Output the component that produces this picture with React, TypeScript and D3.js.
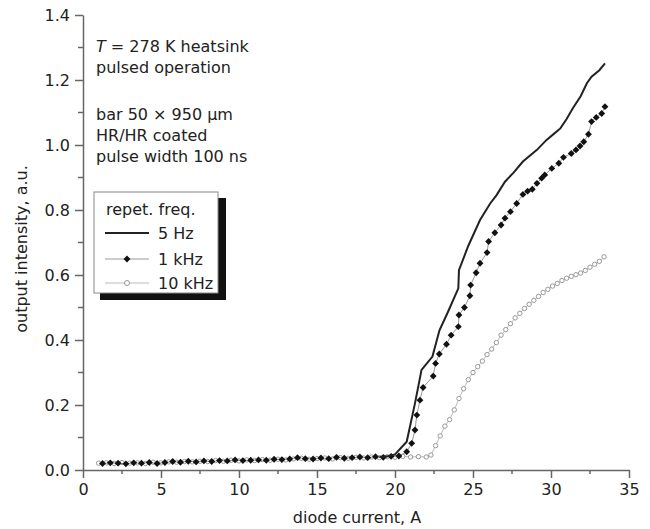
import * as d3 from "d3";
import React, { useRef, useEffect } from "react";

const W = 650;
const H = 529;
const font = "'DejaVu Sans', sans-serif";

// readings: [diode current A, output intensity a.u.]
const hz5: [number, number][] = [
  [19.0, 0.04], [19.5, 0.042], [20.0, 0.048], [20.75, 0.087], [21.28, 0.205],
  [21.7, 0.308], [22.4, 0.349], [22.85, 0.43], [23.4, 0.487], [24.06, 0.559],
  [24.1, 0.615], [24.7, 0.69], [25.45, 0.769], [26.1, 0.82], [26.5, 0.845],
  [27.05, 0.887], [27.6, 0.915], [28.2, 0.949], [29.1, 0.985], [29.7, 1.015],
  [30.2, 1.035], [30.6, 1.051], [31.0, 1.08], [31.4, 1.113], [31.9, 1.15],
  [32.3, 1.19], [32.6, 1.21], [33.1, 1.23], [33.46, 1.251],
];

const khz1: [number, number][] = [
  [1.25, 0.02], [1.75, 0.022], [2.25, 0.021], [2.75, 0.019], [3.25, 0.022],
  [3.75, 0.021], [4.25, 0.023], [4.75, 0.02], [5.25, 0.023], [5.75, 0.026],
  [6.25, 0.024], [6.75, 0.027], [7.25, 0.025], [7.75, 0.028], [8.25, 0.026],
  [8.75, 0.029], [9.25, 0.028], [9.75, 0.031], [10.25, 0.029], [10.75, 0.03],
  [11.25, 0.031], [11.75, 0.03], [12.25, 0.033], [12.75, 0.032], [13.25, 0.034],
  [13.75, 0.038], [14.25, 0.035], [14.75, 0.034], [15.25, 0.037], [15.75, 0.035],
  [16.25, 0.039], [16.75, 0.036], [17.25, 0.038], [17.75, 0.04], [18.25, 0.038],
  [18.75, 0.041], [19.25, 0.039], [19.75, 0.042], [20.25, 0.043], [20.75, 0.056],
  [21.07, 0.082], [21.28, 0.123], [21.4, 0.169], [21.6, 0.215], [21.8, 0.254],
  [22.45, 0.289], [22.6, 0.328], [22.84, 0.357], [23.3, 0.387], [23.6, 0.415],
  [24.06, 0.441], [24.1, 0.477], [24.45, 0.5], [24.8, 0.536], [24.85, 0.569],
  [25.2, 0.607], [25.45, 0.636], [25.9, 0.669], [26.0, 0.703], [26.4, 0.73],
  [26.8, 0.754], [27.05, 0.775], [27.4, 0.795], [27.8, 0.82], [28.2, 0.848],
  [28.5, 0.858], [28.8, 0.864], [29.1, 0.882], [29.4, 0.898], [29.6, 0.908],
  [30.05, 0.928], [30.5, 0.944], [30.8, 0.962], [31.3, 0.974], [31.6, 0.985],
  [31.86, 0.997], [32.1, 1.01], [32.4, 1.033], [32.6, 1.072], [32.9, 1.085],
  [33.25, 1.097], [33.46, 1.118],
];

const khz10: [number, number][] = [
  [1.0, 0.021], [1.5, 0.022], [2.0, 0.02], [2.5, 0.023], [3.0, 0.021],
  [3.5, 0.022], [4.0, 0.02], [4.5, 0.024], [5.0, 0.022], [5.5, 0.025],
  [6.0, 0.024], [6.5, 0.026], [7.0, 0.025], [7.5, 0.027], [8.0, 0.026],
  [8.5, 0.029], [9.0, 0.027], [9.5, 0.03], [10.0, 0.028], [10.5, 0.031],
  [11.0, 0.029], [11.5, 0.032], [12.0, 0.03], [12.5, 0.033], [13.0, 0.031],
  [13.5, 0.034], [14.0, 0.036], [14.5, 0.033], [15.0, 0.035], [15.5, 0.037],
  [16.0, 0.034], [16.5, 0.038], [17.0, 0.036], [17.5, 0.039], [18.0, 0.037],
  [18.5, 0.04], [19.0, 0.038], [19.5, 0.041], [20.0, 0.039], [20.5, 0.042],
  [21.0, 0.04], [21.5, 0.041], [22.0, 0.04], [22.3, 0.046], [22.6, 0.075],
  [22.9, 0.105], [23.2, 0.135], [23.5, 0.155], [23.8, 0.185], [24.1, 0.22],
  [24.4, 0.25], [24.7, 0.278], [25.0, 0.3], [25.3, 0.318], [25.6, 0.335],
  [25.9, 0.355], [26.2, 0.372], [26.5, 0.392], [26.8, 0.415], [27.1, 0.432],
  [27.4, 0.45], [27.7, 0.468], [28.0, 0.482], [28.3, 0.497], [28.6, 0.51],
  [28.9, 0.522], [29.2, 0.534], [29.5, 0.546], [29.8, 0.556], [30.1, 0.566],
  [30.4, 0.574], [30.7, 0.583], [31.0, 0.59], [31.3, 0.596], [31.6, 0.601],
  [31.9, 0.606], [32.2, 0.614], [32.5, 0.624], [32.8, 0.633], [33.1, 0.642],
  [33.4, 0.656],
];

const xTicks = [0, 5, 10, 15, 20, 25, 30, 35];
const xMinor = [2.5, 7.5, 12.5, 17.5, 22.5, 27.5, 32.5];
const yTicks = [0, 0.2, 0.4, 0.6, 0.8, 1.0, 1.2, 1.4];
const yMinor = [0.1, 0.3, 0.5, 0.7, 0.9, 1.1, 1.3];

const notesTop = ["pulsed operation"];
const notesBottom = ["bar 50 × 950 μm", "HR/HR coated", "pulse width 100 ns"];
const legendTitle = "repet. freq.";
const legendLabels = ["5 Hz", "1 kHz", "10 kHz"];

const x = d3.scaleLinear().domain([0, 35]).range([83, 629]);
const y = d3.scaleLinear().domain([0, 1.4]).range([470, 15]);

export default function App() {
  const ref = useRef<SVGSVGElement>(null);

  useEffect(() => {
    const svg = d3.select(ref.current);
    svg.selectAll("*").remove();
    const axisColor = "#666";

    // x axis
    const gx = svg.append("g").attr("transform", `translate(0,${y(0)})`);
    gx.call(
      d3.axisBottom(x).tickValues(xTicks).tickSize(8).tickSizeOuter(0).tickPadding(6)
    );
    gx.selectAll(".minor")
      .data(xMinor)
      .enter()
      .append("line")
      .attr("x1", (d) => x(d))
      .attr("x2", (d) => x(d))
      .attr("y1", 0)
      .attr("y2", 4);

    // y axis
    const gy = svg.append("g").attr("transform", `translate(${x(0)},0)`);
    gy.call(
      d3
        .axisLeft(y)
        .tickValues(yTicks)
        .tickFormat(d3.format(".1f"))
        .tickSize(8)
        .tickSizeOuter(0)
        .tickPadding(5)
    );
    gy.selectAll(".minor")
      .data(yMinor)
      .enter()
      .append("line")
      .attr("x1", -5)
      .attr("x2", 0)
      .attr("y1", (d) => y(d))
      .attr("y2", (d) => y(d));

    [gx, gy].forEach((g) => {
      g.selectAll("path, line").attr("stroke", axisColor).attr("stroke-width", 1.5);
      g.selectAll("text")
        .attr("fill", "#222")
        .style("font-family", font)
        .style("font-size", "16px");
    });

    const line = d3
      .line<[number, number]>()
      .x((d) => x(d[0]))
      .y((d) => y(d[1]));

    // 10 kHz
    svg
      .append("path")
      .datum(khz10)
      .attr("d", line)
      .attr("fill", "none")
      .attr("stroke", "#bbb")
      .attr("stroke-width", 1);
    svg
      .append("g")
      .selectAll("circle")
      .data(khz10)
      .join("circle")
      .attr("cx", (d) => x(d[0]))
      .attr("cy", (d) => y(d[1]))
      .attr("r", 2.2)
      .attr("fill", "white")
      .attr("stroke", "#999")
      .attr("stroke-width", 1);

    // 1 kHz
    svg
      .append("path")
      .datum(khz1)
      .attr("d", line)
      .attr("fill", "none")
      .attr("stroke", "#999")
      .attr("stroke-width", 1);
    const diamond = d3.symbol(d3.symbolDiamond2, 30)();
    svg
      .append("g")
      .selectAll("path")
      .data(khz1)
      .join("path")
      .attr("d", diamond)
      .attr("transform", (d) => `translate(${x(d[0])},${y(d[1])})`)
      .attr("fill", "#111");

    // 5 Hz
    svg
      .append("path")
      .datum(hz5)
      .attr("d", line)
      .attr("fill", "none")
      .attr("stroke", "#222")
      .attr("stroke-width", 2);

    // legend
    const lg = svg.append("g");
    lg.append("rect").attr("x", 100).attr("y", 198).attr("width", 126).attr("height", 102).attr("fill", "#111");
    lg.append("rect")
      .attr("x", 94)
      .attr("y", 192)
      .attr("width", 124)
      .attr("height", 101)
      .attr("fill", "white")
      .attr("stroke", "#888")
      .attr("stroke-width", 1);
    lg.append("text").attr("x", 106).attr("y", 215).text(legendTitle);
    const rows = [233, 259, 283];
    legendLabels.forEach((lab, i) => {
      lg.append("text").attr("x", 158).attr("y", rows[i] + 6).text(lab);
    });
    lg.append("line").attr("x1", 105).attr("x2", 149).attr("y1", rows[0]).attr("y2", rows[0]).attr("stroke", "#222").attr("stroke-width", 2);
    lg.append("line").attr("x1", 105).attr("x2", 149).attr("y1", rows[1]).attr("y2", rows[1]).attr("stroke", "#999").attr("stroke-width", 1);
    lg.append("path").attr("d", diamond).attr("transform", `translate(127,${rows[1]})`).attr("fill", "#111");
    lg.append("line").attr("x1", 105).attr("x2", 149).attr("y1", rows[2]).attr("y2", rows[2]).attr("stroke", "#bbb").attr("stroke-width", 1);
    lg.append("circle").attr("cx", 127).attr("cy", rows[2]).attr("r", 2.5).attr("fill", "white").attr("stroke", "#999");
    lg.selectAll("text").attr("fill", "#222").style("font-family", font).style("font-size", "16px");

    // annotation
    const ann = svg.append("g").attr("fill", "#222").style("font-family", font).style("font-size", "16px");
    const t0 = ann.append("text").attr("x", 96).attr("y", 52);
    t0.append("tspan").attr("font-style", "italic").text("T");
    t0.append("tspan").text(" = 278 K heatsink");
    notesTop.forEach((n, i) => {
      ann.append("text").attr("x", 96).attr("y", 73 + i * 21).text(n);
    });
    notesBottom.forEach((n, i) => {
      ann.append("text").attr("x", 96).attr("y", 120 + i * 21).text(n);
    });

    // axis titles
    svg
      .append("text")
      .attr("x", 357)
      .attr("y", 523)
      .attr("text-anchor", "middle")
      .attr("fill", "#222")
      .style("font-family", font)
      .style("font-size", "16px")
      .text("diode current, A");
    svg
      .append("text")
      .attr("transform", "translate(27,249) rotate(-90)")
      .attr("text-anchor", "middle")
      .attr("fill", "#222")
      .style("font-family", font)
      .style("font-size", "16px")
      .text("output intensity, a.u.");
  }, []);

  return (
    <svg
      ref={ref}
      width={W}
      height={H}
      style={{ position: "absolute", left: 0, top: 0, background: "white" }}
    />
  );
}
